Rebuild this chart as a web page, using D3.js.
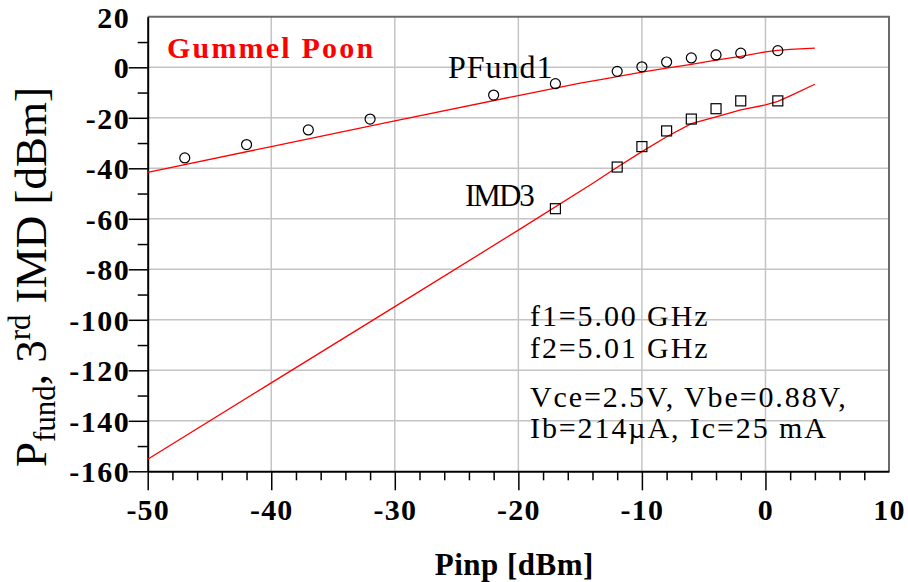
<!DOCTYPE html>
<html><head><meta charset="utf-8">
<script src="https://cdn.jsdelivr.net/npm/d3@7"></script>
<style>
  body { margin: 0; background: #fff; }
  svg text { font-family: "Liberation Serif", "Times New Roman", serif; }
</style>
</head><body>
<svg id="chart" width="908" height="582"></svg>
<script>
// Axis tick values
const xTicks = [-50, -40, -30, -20, -10, 0, 10];
const xMinor = d3.range(-48, 10, 2).filter(v => v % 10 !== 0);
const yTicks = [20, 0, -20, -40, -60, -80, -100, -120, -140, -160];
const yMinor = [10, -10, -30, -50, -70, -90, -110, -130, -150];

// Measured fundamental output power (circles)
const pfundMeasX = [-47, -42, -37, -32, -22, -17, -12, -10, -8, -6, -4, -2, 1];
const pfundMeasY = [-35.9, -30.6, -24.8, -20.5, -11.0, -6.5, -1.6, 0.2, 2.1, 3.7, 4.9, 5.6, 6.6];

// Measured third-order intermodulation (squares)
const imdMeasX = [-17, -12, -10, -8, -6, -4, -2, 1];
const imdMeasY = [-56.0, -39.5, -31.4, -25.2, -20.5, -16.4, -13.3, -13.3];

// Gummel-Poon simulation curves
const pfundSimX = [-50, -40, -30, -20, -15, -13, -10, -8, -6, -4, -2, 0, 1, 2, 4];
const pfundSimY = [-41.6, -31.4, -21.2, -11.2, -6.3, -4.6, -1.9, -0.3, 1.2, 2.8, 4.3, 6.1, 6.7, 7.1, 7.6];
const imdSimX = [-50, -40, -30, -20, -14, -12, -10, -8, -6, -4, -2, 0, 1, 2, 4];
const imdSimY = [-155.2, -125.0, -94.8, -64.5, -46.0, -39.6, -33.4, -27.5, -22.3, -19.6, -16.9, -14.9, -13.5, -11.3, -6.7];

const svg = d3.select("#chart");
const L = 147.7, R = 889, T = 16.8, B = 471.3;
const x = d3.scaleLinear().domain([-50, 10]).range([L, R]);
const y = d3.scaleLinear().domain([-160, 20]).range([B, T]);

// Grid
const grid = svg.append("g").attr("stroke", "#c4c4c4").attr("stroke-width", 1.5);
grid.selectAll("line.v").data(xTicks.filter(v => v > -50 && v < 10)).join("line")
  .attr("x1", d => x(d)).attr("x2", d => x(d)).attr("y1", T).attr("y2", B);
grid.selectAll("line.h").data(yTicks.filter(v => v > -160 && v < 20)).join("line")
  .attr("y1", d => y(d)).attr("y2", d => y(d)).attr("x1", L).attr("x2", R);

// Frame: top and right
svg.append("path")
  .attr("d", `M${L},${T}H${R}V${B}`)
  .attr("fill", "none").attr("stroke", "#6a6a6a").attr("stroke-width", 2);

// Minor ticks
svg.append("g").attr("transform", `translate(${L},0)`)
  .call(d3.axisLeft(y).tickValues(yMinor).tickSize(10).tickFormat(""))
  .call(g => g.select(".domain").remove())
  .selectAll("line").attr("stroke", "#000").attr("stroke-width", 1.5);
svg.append("g").attr("transform", `translate(0,${B})`)
  .call(d3.axisBottom(x).tickValues(xMinor).tickSize(9).tickFormat(""))
  .call(g => g.select(".domain").remove())
  .selectAll("line").attr("stroke", "#000").attr("stroke-width", 1.5);

// Major axes
const yAxis = svg.append("g").attr("transform", `translate(${L},0)`)
  .call(d3.axisLeft(y).tickValues(yTicks).tickSize(19).tickSizeOuter(0).tickPadding(0)
    .tickFormat(d => d));
yAxis.select(".domain").attr("stroke", "#000").attr("stroke-width", 2);
yAxis.selectAll(".tick line").attr("stroke", "#000").attr("stroke-width", 1.5)
  .filter(d => d === 20).remove();
yAxis.selectAll(".tick text").attr("font-size", 30).attr("font-weight", "bold")
  .attr("letter-spacing", 1.5).attr("fill", "#000").attr("dy", "0.34em")
  .attr("dx", 1.5);

const xAxis = svg.append("g").attr("transform", `translate(0,${B})`)
  .call(d3.axisBottom(x).tickValues(xTicks).tickSize(19).tickSizeOuter(0).tickPadding(8)
    .tickFormat(d => d));
xAxis.select(".domain").attr("stroke", "#000").attr("stroke-width", 2);
xAxis.selectAll(".tick line").attr("stroke", "#000").attr("stroke-width", 1.5)
  .filter(d => d === 10).remove();
xAxis.selectAll(".tick text").attr("font-size", 30).attr("font-weight", "bold")
  .attr("letter-spacing", 1.2).attr("fill", "#000");

// Simulation curves
const line = d3.line().x(d => x(d[0])).y(d => y(d[1]));
const sims = [d3.zip(pfundSimX, pfundSimY), d3.zip(imdSimX, imdSimY)];
svg.append("g").selectAll("path").data(sims).join("path")
  .attr("d", line).attr("fill", "none").attr("stroke", "#ff0000").attr("stroke-width", 1.3);

// Measured points
svg.append("g").selectAll("circle").data(d3.zip(pfundMeasX, pfundMeasY)).join("circle")
  .attr("cx", d => x(d[0])).attr("cy", d => y(d[1])).attr("r", 5)
  .attr("fill", "none").attr("stroke", "#000").attr("stroke-width", 1.2);
svg.append("g").selectAll("rect").data(d3.zip(imdMeasX, imdMeasY)).join("rect")
  .attr("x", d => x(d[0]) - 5).attr("y", d => y(d[1]) - 5).attr("width", 10).attr("height", 10)
  .attr("fill", "none").attr("stroke", "#000").attr("stroke-width", 1.2);

// Labels inside plot
svg.append("text").attr("x", 167).attr("y", 58).attr("font-size", 30).attr("font-weight", "bold")
  .attr("letter-spacing", 2.2).attr("fill", "#ff0000").text("Gummel Poon");
svg.append("text").attr("x", 448).attr("y", 78).attr("font-size", 32).attr("letter-spacing", 1)
  .attr("fill", "#000").text("PFund1");
svg.append("text").attr("x", 465).attr("y", 206).attr("font-size", 31).attr("letter-spacing", -2)
  .attr("fill", "#000").text("IMD3");

const notes = [
  { t: "f1=5.00 GHz", y: 326 },
  { t: "f2=5.01 GHz", y: 358 },
  { t: "Vce=2.5V, Vbe=0.88V,", y: 407 },
  { t: "Ib=214µA, Ic=25 mA", y: 438 }
];
svg.append("g").selectAll("text").data(notes).join("text")
  .attr("x", 530).attr("y", d => d.y).attr("font-size", 30).attr("letter-spacing", 1.9)
  .attr("fill", "#000").text(d => d.t);

// Axis titles
svg.append("text").attr("x", (L + R) / 2 - 4).attr("y", 575).attr("text-anchor", "middle")
  .attr("font-size", 31).attr("font-weight", "bold").attr("letter-spacing", 0.5)
  .attr("fill", "#000").text("Pinp [dBm]");

const yt = svg.append("text").attr("transform", "translate(46,277) rotate(-90)")
  .attr("text-anchor", "middle").attr("font-size", 45).attr("fill", "#000");
yt.append("tspan").text("P");
yt.append("tspan").attr("font-size", 31).attr("dy", 9).text("fund");
yt.append("tspan").attr("dy", -9).text(", 3");
yt.append("tspan").attr("font-size", 31).attr("dy", -16).text("rd");
yt.append("tspan").attr("dy", 16).text(" IMD [dBm]");
</script>
</body></html>
